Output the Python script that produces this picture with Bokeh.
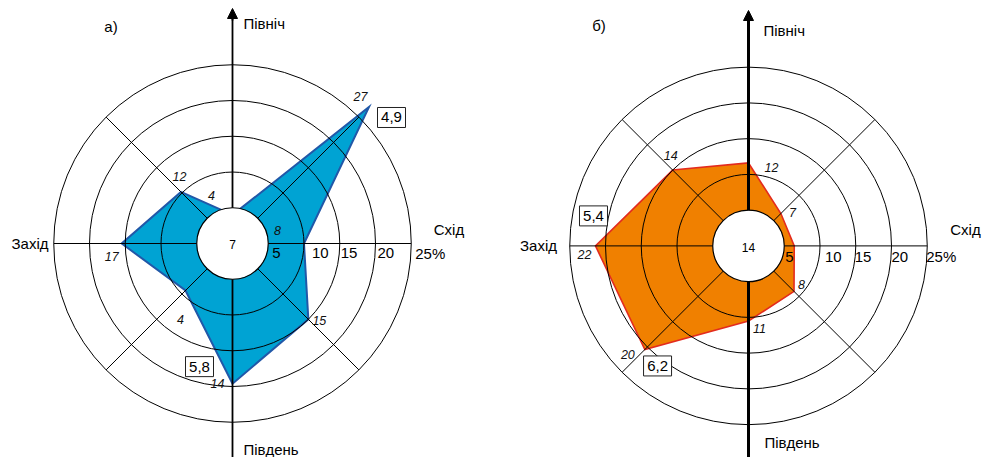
import numpy as np
from bokeh.plotting import figure
from bokeh.models import Range1d, Arrow, NormalHead
from bokeh.core.properties import value
from bokeh.embed import file_html
from bokeh.resources import INLINE

# ---------------- data ----------------
directions = ["Пн", "ПнСх", "Сх", "ПдСх", "Пд", "ПдЗх", "Зх", "ПнЗх"]
bearings = [0, 45, 90, 135, 180, 225, 270, 315]

# rose a): frequencies as drawn (%) and the numbers written next to the vertices
freq_a = [4, 27, 10, 15, 19.6, 9.3, 15.5, 10.2]
freq_a_labels = ["4", "27", "8", "15", "14", "4", "17", "12"]
calm_a = "7"
speed_a_dirs = ["ПнСх", "Пд"]
speed_a_vals = ["4,9", "5,8"]

# rose б)
freq_b = [11.6, 6.4, 6.4, 9.0, 10.5, 20.5, 21.4, 15.0]
freq_b_labels = ["12", "7", "", "8", "11", "20", "22", "14"]
calm_b = "14"
speed_b_dirs = ["Зх", "ПдЗх"]
speed_b_vals = ["5,4", "6,2"]

inner_ring = 5
rings = [10, 15, 20, 25]
ring_ticks = [5, 10, 15, 20, 25]
ring_tick_labels = ["5", "10", "15", "20", "25%"]
compass = ["Північ", "Схід", "Південь", "Захід"]
panel_titles = ["а)", "б)"]

# ---------------- layout ----------------
K = 7.15            # pixels per percent
W, H = 982, 457
LCX, LCY = 232, 243  # left centre on canvas (px)
FONT = "Liberation Sans"

p = figure(width=W, height=H, output_backend="svg", toolbar_location=None,
           x_range=Range1d(-LCX / K, (W - LCX) / K),
           y_range=Range1d(-(H - LCY) / K, LCY / K),
           min_border=0)
p.axis.visible = False
p.grid.visible = False
p.outline_line_color = None
p.background_fill_color = "white"

TOP = LCY / K
BOTTOM = -(H - LCY) / K


def polar(cx, cy, vals):
    b = np.radians(bearings)
    v = np.asarray(vals, dtype=float)
    return cx + v * np.sin(b), cy + v * np.cos(b)


def rose(cx, cy, freq, flabels, loffs, calm, sdirs, svals, soffs,
         fill, edge, edge_w, axis_w, tip_px, title, title_off, comp_offs,
         tick_offs, tick_dy, calm_off):
    xs, ys = polar(cx, cy, freq)
    p.patch(list(xs), list(ys), fill_color=fill, line_color=edge,
            line_width=edge_w, line_join="miter")
    # rings
    p.circle(x=[cx] * len(rings), y=[cy] * len(rings), radius=rings,
             fill_color=None, line_color="black", line_width=1)
    # spokes (except N-S axis)
    ex, ey = polar(cx, cy, [rings[-1]] * 8)
    idx = [1, 2, 3, 5, 6, 7]
    p.segment(x0=[cx] * 6, y0=[cy] * 6, x1=[ex[i] for i in idx],
              y1=[ey[i] for i in idx], line_color="black", line_width=1)
    # N-S axis with arrow
    tip = TOP - tip_px / K
    p.segment(x0=[cx], y0=[BOTTOM - 2], x1=[cx], y1=[tip - 6 / K],
              line_color="black", line_width=axis_w)
    p.add_layout(Arrow(end=NormalHead(size=10, fill_color="black",
                                      line_color="black", line_width=1),
                       x_start=cx, y_start=tip - 12 / K, x_end=cx, y_end=tip,
                       line_color="black", line_width=axis_w))
    # inner calm circle
    p.circle(x=[cx], y=[cy], radius=inner_ring, fill_color="white",
             line_color="black", line_width=1.2)
    p.text(x=[cx], y=[cy], text=[calm], x_offset=[calm_off[0]],
           y_offset=[calm_off[1]], text_align="center",
           text_baseline="middle", text_font=value(FONT),
           text_font_size="12px", text_color="black")
    # vertex labels
    lx = [xs[i] for i in range(8) if flabels[i]]
    ly = [ys[i] for i in range(8) if flabels[i]]
    lt = [flabels[i] for i in range(8) if flabels[i]]
    lo = [loffs[i] for i in range(8) if flabels[i]]
    p.text(x=lx, y=ly, text=lt, x_offset=[o[0] for o in lo],
           y_offset=[o[1] for o in lo], text_align="center",
           text_baseline="middle", text_font=value(FONT),
           text_font_style="italic", text_font_size="12.5px",
           text_color="#111111")
    # speed boxes
    bx, by = [], []
    for d, o in zip(sdirs, soffs):
        i = directions.index(d)
        bx.append(xs[i] + o[0] / K)
        by.append(ys[i] - o[1] / K)
    p.rect(x=bx, y=by, width=28, height=20, width_units="screen",
           height_units="screen", fill_color="white", line_color="#222222",
           line_width=1)
    p.text(x=bx, y=by, text=svals, text_align="center",
           text_baseline="middle", text_font=value(FONT),
           text_font_size="15px", text_color="black")
    # ring tick labels
    p.text(x=[cx + t for t in ring_ticks], y=[cy] * 5, text=ring_tick_labels,
           x_offset=tick_offs, y_offset=[tick_dy] * 5, text_align="left",
           text_baseline="middle", text_font=value(FONT),
           text_font_size="15px", text_color="black")
    # compass labels
    aligns = ["left", "center", "left", "center"]
    for name, o, al in zip(compass, comp_offs, aligns):
        p.text(x=[cx], y=[cy], text=[name], x_offset=[o[0]], y_offset=[o[1]],
               text_align=al, text_baseline="middle", text_font=value(FONT),
               text_font_size="15px", text_color="black")
    p.text(x=[cx], y=[cy], text=[title], x_offset=[title_off[0]],
           y_offset=[title_off[1]], text_align="center",
           text_baseline="middle", text_font=value(FONT),
           text_font_size="15px", text_color="black")


# left rose а)
rose(0, 0, freq_a, freq_a_labels,
     [(-21, -19), (-8.5, -10.5), (-26.5, -13), (11, 1), (-15, 0), (-5, 29),
      (-10, 13), (-1.5, -15.5)],
     calm_a, speed_a_dirs, speed_a_vals, [(22.5, 10.5), (-33, -17)],
     "#00A3D3", "#2158A8", 2, 1.8, 8, panel_titles[0], (-121.5, -217),
     [(11, -220), (216.5, -14.5), (11, 206), (-202.5, -0.5)],
     [4, 8, 1, 2, 4], 9.5, (0, 1))

# right rose б)
RCX, RCY = 516 / K, -2.4 / K
rose(RCX, RCY, freq_b, freq_b_labels,
     [(23, 4.5), (11.6, -1), (0, 0), (7.5, -7), (11, 7.5), (-17, 5),
      (-11, 8.6), (-2, -14.6)],
     calm_b, speed_b_dirs, speed_b_vals, [(-2, -30), (12.7, 16.4)],
     "#F08000", "#E32B1E", 1.6, 3, 10, panel_titles[1], (-149.5, -220),
     [(15, -215), (217, -16.4), (16, 197), (-210, 0)],
     [1, 5, -1, 0, -1], 10.6, (0, 1.6))

open("out.html", "w").write(file_html(p, INLINE))
